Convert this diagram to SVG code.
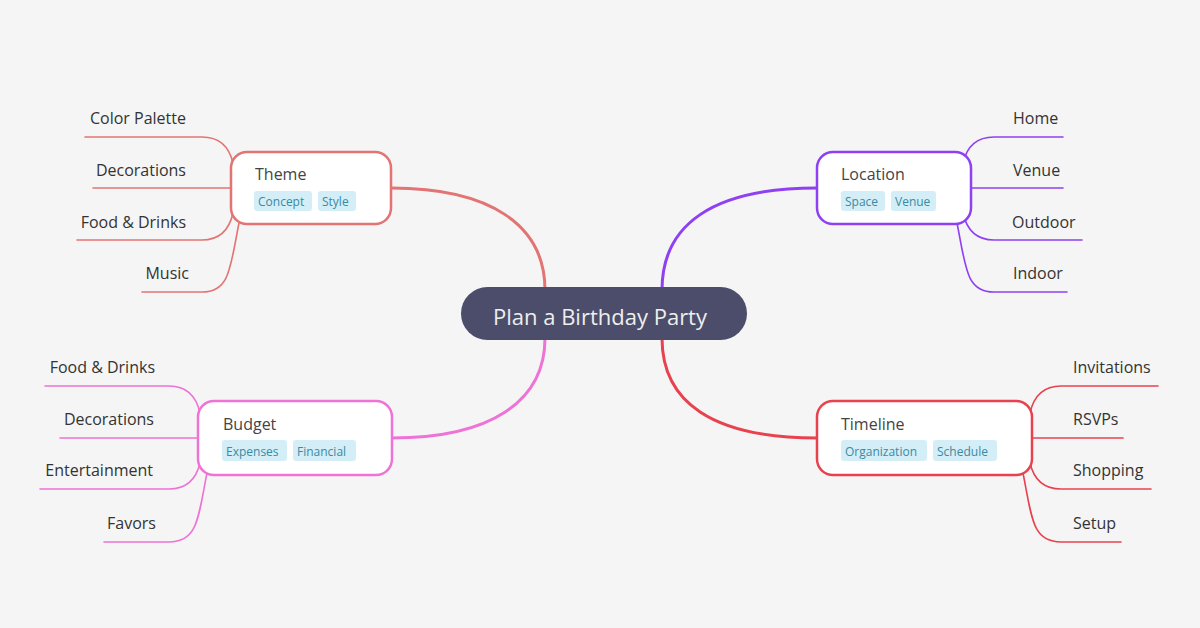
<svg xmlns="http://www.w3.org/2000/svg" width="1200" height="628" viewBox="0 0 1200 628">
<style>
.main{fill:none;stroke-width:3;stroke-linecap:round}
.sub{fill:none;stroke-width:1.6;stroke-linecap:round}
.node{fill:#ffffff;stroke-width:2.5}
.title{font-family:"Open Sans","Noto Sans",sans-serif;font-size:16px;fill:#444444}
.leaf{font-family:"Open Sans","Noto Sans",sans-serif;font-size:16px;fill:#333333}
.tag{fill:#d3eef6}
.tagt{font-family:"Open Sans","Noto Sans",sans-serif;font-size:12px;fill:#3a8aa3}
.red{stroke:#e37474}
.pur{stroke:#8e40f2}
.pink{stroke:#ef72d6}
.crim{stroke:#e8424f}
</style>
<rect x="0" y="0" width="1200" height="628" fill="#f5f5f5"/>
<g id="connectors">
  <path class="main red" d="M391,188 C490,188 545,225 545,290"/>
  <path class="main pur" d="M817,188 C712,188 662,225 662,290"/>
  <path class="main pink" d="M392,438 C490,438 545,402 545,338"/>
  <path class="main crim" d="M817,438 C712,438 662,402 662,338"/>
  <path class="sub red" d="M233,163 C229,146 218,137 202,137 L85,137"/>
  <path class="sub red" d="M231,188 L93,188"/>
  <path class="sub red" d="M233,213 C229,231 218,240 202,240 L77,240"/>
  <path class="sub red" d="M239,223 C230,268 230,292 202,292 L142,292"/>
  <path class="sub pur" d="M963,163 C967,146 978,137 994,137 L1063,137"/>
  <path class="sub pur" d="M971,188 L1063,188"/>
  <path class="sub pur" d="M963,213 C967,231 978,240 994,240 L1082,240"/>
  <path class="sub pur" d="M957,223 C966,268 966,292 994,292 L1067,292"/>
  <path class="sub pink" d="M200,413 C196,395 185,386 169,386 L45,386"/>
  <path class="sub pink" d="M198,438 L60,438"/>
  <path class="sub pink" d="M200,463 C196,480 185,489 169,489 L40,489"/>
  <path class="sub pink" d="M207,473 C198,518 198,542 169,542 L104,542"/>
  <path class="sub crim" d="M1030,413 C1034,395 1045,386 1061,386 L1158,386"/>
  <path class="sub crim" d="M1032,438 L1123,438"/>
  <path class="sub crim" d="M1030,463 C1034,480 1045,489 1061,489 L1151,489"/>
  <path class="sub crim" d="M1023,473 C1032,518 1032,542 1061,542 L1121,542"/>
</g>
<g id="central">
  <rect x="461" y="287" width="286" height="53" rx="26.5" fill="#4b4d6a"/>
  <text x="600" y="325" text-anchor="middle" font-family="'Open Sans','Noto Sans',sans-serif" font-size="22" fill="#eeeeee">Plan a Birthday Party</text>
</g>
<g id="theme">
  <rect class="node red" x="231" y="152" width="160" height="72" rx="16"/>
  <text class="title" x="255" y="180">Theme</text>
  <rect class="tag" x="254" y="191" width="58" height="20" rx="3"/>
  <text class="tagt" x="258" y="206">Concept</text>
  <rect class="tag" x="318" y="191" width="38" height="20" rx="3"/>
  <text class="tagt" x="322" y="206">Style</text>
</g>
<g id="theme-children">
  <text class="leaf" x="186" y="124" text-anchor="end">Color Palette</text>
  <text class="leaf" x="186" y="176" text-anchor="end">Decorations</text>
  <text class="leaf" x="186" y="228" text-anchor="end">Food &amp; Drinks</text>
  <text class="leaf" x="189" y="279" text-anchor="end">Music</text>
</g>
<g id="location">
  <rect class="node pur" x="817" y="152" width="154" height="72" rx="16"/>
  <text class="title" x="841" y="180">Location</text>
  <rect class="tag" x="841" y="191" width="44" height="20" rx="3"/>
  <text class="tagt" x="845" y="206">Space</text>
  <rect class="tag" x="891" y="191" width="45" height="20" rx="3"/>
  <text class="tagt" x="895" y="206">Venue</text>
</g>
<g id="location-children">
  <text class="leaf" x="1013" y="124">Home</text>
  <text class="leaf" x="1013" y="176">Venue</text>
  <text class="leaf" x="1012" y="228">Outdoor</text>
  <text class="leaf" x="1013" y="279">Indoor</text>
</g>
<g id="budget">
  <rect class="node pink" x="198" y="401" width="194" height="74" rx="16"/>
  <text class="title" x="223" y="430">Budget</text>
  <rect class="tag" x="222" y="440" width="65" height="21" rx="3"/>
  <text class="tagt" x="226" y="456">Expenses</text>
  <rect class="tag" x="293" y="440" width="63" height="21" rx="3"/>
  <text class="tagt" x="297" y="456">Financial</text>
</g>
<g id="budget-children">
  <text class="leaf" x="155" y="373" text-anchor="end">Food &amp; Drinks</text>
  <text class="leaf" x="154" y="425" text-anchor="end">Decorations</text>
  <text class="leaf" x="153" y="476" text-anchor="end">Entertainment</text>
  <text class="leaf" x="156" y="529" text-anchor="end">Favors</text>
</g>
<g id="timeline">
  <rect class="node crim" x="817" y="401" width="215" height="74" rx="16"/>
  <text class="title" x="841" y="430">Timeline</text>
  <rect class="tag" x="841" y="440" width="86" height="21" rx="3"/>
  <text class="tagt" x="845" y="456">Organization</text>
  <rect class="tag" x="933" y="440" width="64" height="21" rx="3"/>
  <text class="tagt" x="937" y="456">Schedule</text>
</g>
<g id="timeline-children">
  <text class="leaf" x="1073" y="373">Invitations</text>
  <text class="leaf" x="1073" y="425">RSVPs</text>
  <text class="leaf" x="1073" y="476">Shopping</text>
  <text class="leaf" x="1073" y="529">Setup</text>
</g>
</svg>
